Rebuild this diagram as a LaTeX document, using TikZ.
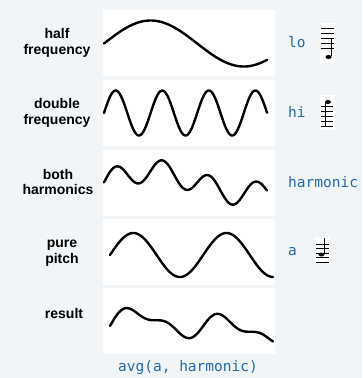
\documentclass[tikz,border=0pt]{standalone}
\usepackage{fontspec}
\setmainfont{Liberation Sans}
\setmonofont{DejaVu Sans Mono}
\usepackage{tikz}
\usetikzlibrary{positioning}
\definecolor{PageGray}{RGB}{242,245,248}
\definecolor{CodeBlue}{RGB}{38,106,170}

\begin{document}
\begin{tikzpicture}[
  x=1pt, y=-1pt,
  panel/.style={rectangle, fill=white, minimum width=172pt,
                minimum height=66pt, inner sep=0pt},
  lbl/.style={align=center, font=\bfseries\fontsize{14}{15.5}\selectfont},
  code/.style={anchor=west, text=CodeBlue, inner sep=0pt,
               font=\ttfamily\fontsize{14.5}{16}\selectfont},
  wave/.style={line width=2.4pt, line cap=round, line join=round},
  staff/.style={rectangle, fill=white, inner sep=0pt},
  sline/.style={line width=0.6pt},
]

% Background
\fill[PageGray] (0,0) rectangle (362,378);
\useasboundingbox (0,0) rectangle (362,378);

% Panels
\node[panel] (p1) at (189,43) {};
\node[panel] (p2) at (189,113) {};
\node[panel] (p3) at (189,182.5) {};
\node[panel] (p4) at (189,252) {};
\node[panel] (p5) at (189,320.5) {};

% Left labels
\node[lbl] (l1) at (57,43) {half\\frequency};
\node[lbl] (l2) at (57,113) {double\\frequency};
\node[lbl] (l3) at (58,182) {both\\harmonics};
\node[lbl] (l4) at (62,253) {pure\\pitch};
\node[lbl] (l5) at (64,313) {result};

% Right labels
\node[code] (lo) at (288,42) {lo};
\node[code] (hi) at (288,112) {hi};
\node[code] (harm) at (288,182) {harmonic};
\node[code] (pa) at (288,252) {a};
\node[code, anchor=center] (avg) at (188,368) {avg(a, harmonic)};

% Waves (angles: 360/186.4, 360/93.2, 360/46.6 per unit)
\draw[wave] plot[domain=0:163, samples=120]
  ({104+\x}, {43.5-23*sin(1.9313*\x)});
\draw[wave] plot[domain=0:163, samples=200]
  ({104+\x}, {113-22.5*sin(7.7253*\x)});
\draw[wave] plot[domain=0:163, samples=200]
  ({104+\x}, {182.5-11.5*sin(1.9313*\x)-11.5*sin(7.7253*\x)});
\draw[wave] plot[domain=0:163, samples=150]
  ({110+\x}, {255-22*sin(3.8627*\x)});
\draw[wave] plot[domain=0:163, samples=200]
  ({110+\x}, {326-11.5*sin(3.8627*\x)-5.75*sin(1.9313*\x)-5.75*sin(7.7253*\x)});

% Note icons
\node[staff, minimum width=15pt, minimum height=40pt] (s1) at (327.5,43) {};
\draw[sline] (321,28) -- (334,28) (321,33) -- (334,33) (321,38) -- (334,38)
  (321,43) -- (334,43) (321,48) -- (334,48);
\draw[line width=0.8pt] (331,38) -- (331,56);
\fill (328.5,57) ellipse (3pt and 2pt);

\node[staff, minimum width=15pt, minimum height=35pt] (s2) at (327.5,112.5) {};
\draw[sline] (321,106.5) -- (333,106.5) (321,111.5) -- (333,111.5) (321,116.5) -- (333,116.5)
  (321,121.5) -- (333,121.5) (321,126.5) -- (333,126.5);
\draw[line width=0.8pt] (325.5,103) -- (325.5,126.5);
\fill (328,102) ellipse (3pt and 2pt);

\node[staff, minimum width=15pt, minimum height=26pt] (s4) at (322.5,250) {};
\draw[sline] (316,244) -- (329,244) (316,248.5) -- (329,248.5) (316,253) -- (329,253)
  (316,257.5) -- (329,257.5) (316,262) -- (329,262);
\draw[line width=0.8pt] (324.5,238) -- (324.5,254);
\fill (321.5,254.5) ellipse (3pt and 2pt);

\end{tikzpicture}
\end{document}
